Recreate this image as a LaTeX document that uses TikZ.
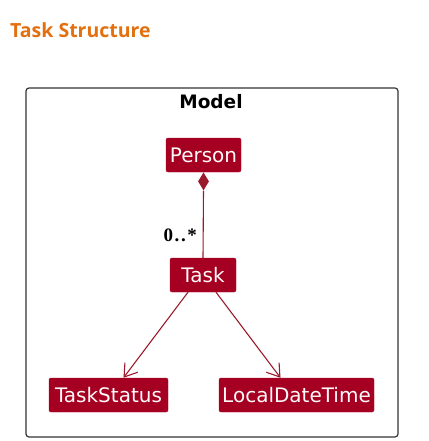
\documentclass[tikz,border=0pt]{standalone}
\usepackage{fontspec}
\setmainfont{DejaVu Sans}
\newfontfamily\titlefont{Open Sans}
\newfontfamily\multfont[LetterSpace=8]{Liberation Serif}
\usetikzlibrary{arrows.meta,shapes.geometric}
\definecolor{umlred}{HTML}{A50022}
\definecolor{linkred}{HTML}{9A1A2C}
\definecolor{titleorange}{HTML}{E3700F}
\begin{document}
\begin{tikzpicture}[x=1pt,y=-1pt,
  classbox/.style={draw=umlred,fill=umlred,rounded corners=2pt,text=white!92!pink,font=\fontsize{20}{20}\selectfont,inner sep=0pt,minimum height=34pt},
  link/.style={draw=linkred,line width=1.1pt},
  openarrow/.style={-{Straight Barb[length=12pt,width=16pt,line width=1.1pt]}}]
\useasboundingbox (0,0) rectangle (428,441);
\node[anchor=base west,text=titleorange,font=\titlefont\fontsize{19.5}{19.5}\selectfont\bfseries,inner sep=0pt] (title) at (10,38) {Task Structure};
\draw[draw=black!80,line width=1.2pt,rounded corners=3pt] (26,88) rectangle (398,437);
\node[font=\fontsize{18.5}{18.5}\selectfont\bfseries] (model) at (211,102) {Model};
\node[classbox,minimum width=75pt] (person) at (203.5,155) {Person};
\node[classbox,minimum width=66pt] (task) at (203,275) {Task};
\node[classbox,minimum width=119pt] (status) at (108.5,395) {TaskStatus};
\node[classbox,minimum width=155pt] (ldt) at (296.5,395) {LocalDateTime};
\node[diamond,fill=linkred,inner sep=0pt,minimum width=11pt,minimum height=18pt,anchor=north] (dia) at (person.south) {};
\draw[link] (dia.south) -- (task.north);
\node[anchor=base east,font=\multfont\fontsize{19}{19}\selectfont\bfseries,inner sep=0pt] (mult) at (197,241) {0..*};
\draw[link,openarrow] ([xshift=-15pt]task.south) -- ([xshift=15pt]status.north);
\draw[link,openarrow] ([xshift=13pt]task.south) -- ([xshift=-16pt]ldt.north);
\end{tikzpicture}
\end{document}
